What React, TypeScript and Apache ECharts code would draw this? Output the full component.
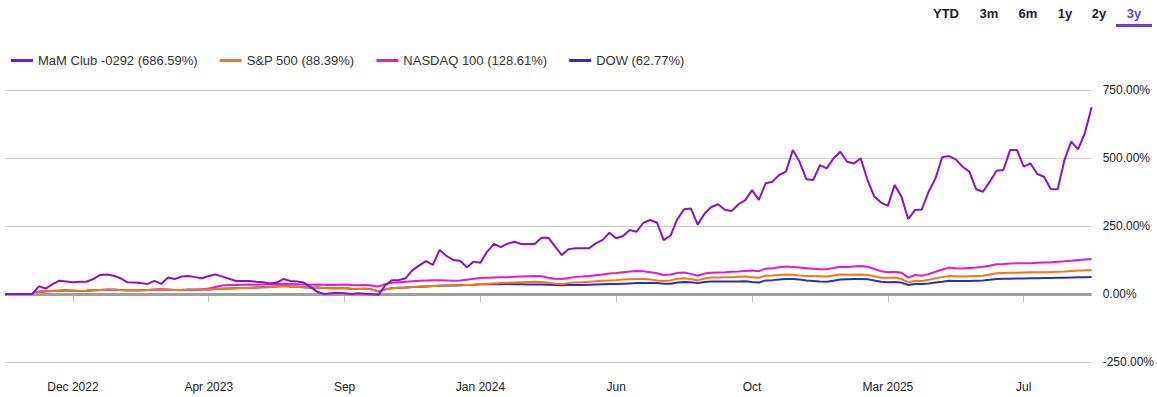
import React, { useEffect, useRef } from "react";
import * as echarts from "echarts";

// ---------- data ----------
const START = Date.UTC(2022, 8, 23);
const STEP_DAYS = 6.9;
const categories: string[] = Array.from({ length: 161 }, (_, i) =>
  new Date(START + Math.round(i * STEP_DAYS) * 86400000).toISOString().slice(0, 10)
);

const tickLabels = ["Dec 2022", "Apr 2023", "Sep", "Jan 2024", "Jun", "Oct", "Mar 2025", "Jul"];
const TICK_FIRST = 10;
const TICK_EVERY = 20;

const rangeButtons = ["YTD", "3m", "6m", "1y", "2y", "3y"];
const activeRange = "3y";

const seriesNames = [
  "MaM Club -0292 (686.59%)",
  "S&P 500 (88.39%)",
  "NASDAQ 100 (128.61%)",
  "DOW (62.77%)",
];

const mamClub = [
  0, 0, 0, 0, 0, 28, 20, 36, 49, 46,
  43, 45, 45, 55, 70, 72, 67, 58, 43, 42,
  40, 37, 48, 37, 61, 55, 64, 66, 62, 58,
  66, 72, 64, 56, 48, 48, 48, 45, 43, 39,
  42, 55, 48, 46, 42, 25, 8, 0, 3, 5,
  3, 0, 3, 1, -1, -3, 33, 51, 51, 58,
  88, 105, 121, 107, 162, 140, 125, 122, 98, 119,
  115, 156, 184, 172, 185, 192, 184, 184, 184, 207,
  207, 174, 143, 165, 168, 168, 168, 186, 199, 225,
  205, 213, 235, 229, 262, 272, 262, 198, 215, 275,
  312, 314, 255, 295, 320, 330, 310, 305, 330, 345,
  382, 346, 407, 413, 438, 450, 529, 486, 422, 419,
  474, 462, 499, 523, 486, 480, 499, 419, 358, 336,
  324, 401, 358, 275, 309, 311, 376, 425, 503, 507,
  495, 468, 450, 385, 376, 413, 453, 456, 529, 529,
  468, 480, 441, 431, 385, 385, 493, 560, 532, 591,
  686.59,
];

const sp500 = [
  0, 0, 0, 0, 1, 8, 10, 11, 12, 13,
  12, 11, 12, 14, 15, 16, 16, 15, 14, 15,
  14, 15, 16, 17, 16, 15, 15, 16, 16, 17,
  17, 18, 19, 20, 21, 22, 22, 24, 25, 26,
  28, 29, 28, 27, 25, 23, 24, 22, 21, 22,
  21, 19, 18, 19, 17, 9, 17, 21, 23, 24,
  26, 27, 28, 29, 30, 31, 31, 32, 33, 34,
  37, 38, 39, 40, 41, 42, 43, 44, 45, 44,
  41, 38, 37, 40, 42, 43, 45, 47, 49, 50,
  51, 53, 54, 55, 55, 53, 50, 48, 50, 56,
  58, 55, 50, 57, 61, 61, 62, 62, 63, 64,
  62, 60, 67, 68, 70, 72, 71, 68, 66, 66,
  65, 64, 68, 72, 71, 71, 72, 70, 65, 60,
  60, 61, 56, 42, 49, 48, 52, 58, 62, 66,
  65, 64, 65, 66, 67, 72, 76, 77, 78, 78,
  79, 80, 80, 80, 81, 82, 83, 85, 86, 87,
  88.39,
];

const nasdaq100 = [
  0, 0, 0, 0, 1, 8, 10, 11, 12, 13,
  12, 11, 12, 14, 15, 16, 16, 15, 14, 15,
  14, 15, 16, 17, 16, 15, 15, 16, 16, 17,
  20, 26, 31, 33, 33, 34, 35, 34, 35, 36,
  37, 38, 37, 36, 35, 34, 35, 34, 33, 34,
  35, 33, 32, 33, 31, 28, 36, 41, 43, 45,
  47, 49, 50, 51, 51, 50, 49, 50, 52, 56,
  59, 60, 61, 62, 62, 63, 64, 65, 66, 65,
  60, 56, 55, 59, 63, 64, 66, 69, 72, 75,
  77, 80, 83, 85, 84, 80, 76, 70, 72, 77,
  79, 74, 67, 75, 78, 79, 80, 82, 83, 85,
  86, 84, 93, 95, 98, 101, 99, 97, 95, 93,
  91, 91, 96, 100, 99, 101, 103, 100, 92, 84,
  80, 82, 78, 60, 70, 67, 73, 82, 90, 97,
  95, 94, 96, 97, 100, 104, 109, 110, 112, 113,
  113, 113, 115, 116, 117, 119, 120, 122, 125, 127,
  128.61,
];

const dow = [
  0, 0, 0, 0, 1, 8, 10, 11, 12, 13,
  12, 11, 12, 14, 15, 16, 16, 15, 14, 15,
  14, 15, 16, 17, 16, 15, 15, 16, 16, 17,
  17, 18, 19, 20, 21, 22, 22, 24, 25, 26,
  28, 29, 28, 27, 25, 23, 24, 22, 21, 22,
  21, 19, 18, 19, 17, 9, 17, 21, 23, 24,
  26, 27, 28, 29, 30, 31, 31, 32, 33, 34,
  36, 36, 36, 36, 37, 36, 36, 35, 35, 35,
  34, 33, 32, 33, 33, 33, 34, 35, 36, 37,
  37, 38, 39, 40, 40, 40, 40, 38, 38, 42,
  44, 43, 40, 44, 46, 46, 46, 46, 46, 47,
  44, 42, 50, 51, 53, 55, 55, 53, 50, 48,
  46, 45, 49, 53, 54, 55, 55, 54, 50, 45,
  43, 44, 42, 33, 37, 37, 39, 42, 45, 49,
  48, 48, 48, 49, 50, 52, 55, 56, 56, 57,
  57, 58, 58, 59, 59, 60, 60, 61, 62, 62,
  62.77,
];

const colors = {
  mam: "#8c14bf",
  sp: "#f17a12",
  nq: "#e01ad6",
  dow: "#2c2cbd",
};

const FONT = '"Liberation Sans", Arial, sans-serif';

export default function App() {
  const ref = useRef<HTMLDivElement>(null);

  useEffect(() => {
    document.body.style.margin = "0";
    if (!ref.current) return;
    const chart = echarts.init(ref.current, undefined, { renderer: "svg" });

    const isTick = (i: number) => i >= TICK_FIRST && (i - TICK_FIRST) % TICK_EVERY === 0;

    const btnX = [946, 989, 1028, 1065, 1099, 1134];
    const graphic: any[] = rangeButtons.map((t, k) => ({
      type: "text",
      x: btnX[k],
      y: 13,
      style: {
        text: t,
        fill: t === activeRange ? "#6b3fd4" : "#1d1d35",
        font: `600 13px ${FONT}`,
        align: "center",
        verticalAlign: "middle",
      },
    }));
    graphic.push({
      type: "rect",
      shape: { x: 1116, y: 24, width: 36, height: 3 },
      style: { fill: "#6b3fd4" },
    });

    const line = (name: string, data: number[], color: string, z: number, extra: any = {}) => ({
      name,
      type: "line",
      data,
      symbol: "none",
      z,
      lineStyle: { color, width: 2 },
      itemStyle: { color },
      emphasis: { disabled: true },
      ...extra,
    });

    chart.setOption({
      animation: false,
      textStyle: { fontFamily: FONT },
      grid: { left: 5, right: 63, top: 90, bottom: 35 },
      legend: {
        left: 6,
        top: 49,
        icon: "rect",
        itemWidth: 22,
        itemHeight: 3,
        itemGap: 22,
        data: seriesNames,
        textStyle: { fontSize: 13, color: "#333", fontFamily: FONT },
        selectedMode: false,
      },
      graphic,
      xAxis: {
        type: "category",
        data: categories,
        boundaryGap: false,
        axisLine: { show: true, lineStyle: { color: "#c8c8c8", width: 1 } },
        axisTick: { show: true, interval: (i: number) => isTick(i), length: 8, lineStyle: { color: "#bdbdbd" } },
        axisLabel: {
          interval: (i: number) => isTick(i),
          formatter: (_v: string, i: number) => tickLabels[(i - TICK_FIRST) / TICK_EVERY] ?? "",
          margin: 19,
          color: "#222",
          fontSize: 12,
          fontFamily: FONT,
        },
        splitLine: { show: false },
      },
      yAxis: {
        type: "value",
        position: "right",
        min: -250,
        max: 750,
        interval: 250,
        axisLine: { show: false },
        axisTick: { show: false },
        axisLabel: {
          formatter: (v: number) => v.toFixed(2) + "%",
          margin: 11,
          color: "#222",
          fontSize: 12,
          fontFamily: FONT,
        },
        splitLine: { lineStyle: { color: "#cfcfcf", width: 1 } },
      },
      series: [
        line(seriesNames[3], dow, colors.dow, 2, {
          markLine: {
            silent: true,
            symbol: "none",
            label: { show: false },
            lineStyle: { color: "#9f9f9f", width: 3, type: "solid" },
            data: [{ yAxis: 0 }],
          },
        }),
        line(seriesNames[2], nasdaq100, colors.nq, 3),
        line(seriesNames[1], sp500, colors.sp, 4),
        line(seriesNames[0], mamClub, colors.mam, 5),
      ],
    });

    return () => chart.dispose();
  }, []);

  return <div ref={ref} style={{ width: 1157, height: 397 }} />;
}
